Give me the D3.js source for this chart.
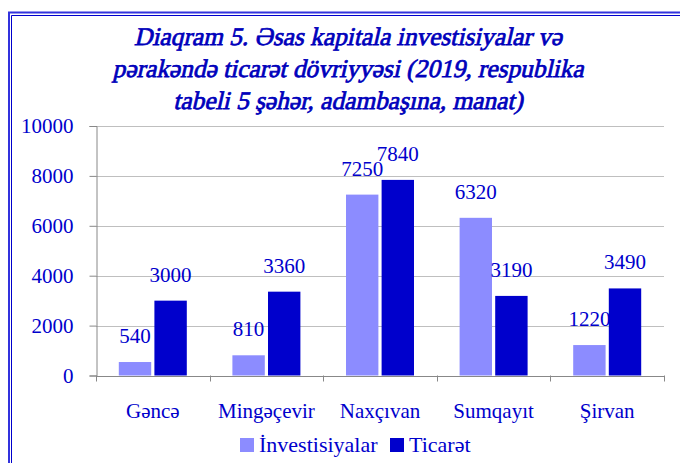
<!DOCTYPE html>
<html><head><meta charset="utf-8">
<script src="https://cdn.jsdelivr.net/npm/d3@7"></script>
<style>body{margin:0;background:#fff}svg{display:block}</style>
</head><body><svg id="c" width="680" height="463"></svg>
<script>
const categories = ["Gəncə","Mingəçevir","Naxçıvan","Sumqayıt","Şirvan"];
const investisiyalar = [540, 810, 7250, 6320, 1220];
const ticaret = [3000, 3360, 7840, 3190, 3490];
const seriesNames = ["İnvestisiyalar","Ticarət"];
const yTicks = [0,2000,4000,6000,8000,10000];
const titleLines = ["Diaqram 5. Əsas kapitala investisiyalar və","pərakəndə ticarət dövriyyəsi (2019, respublika","tabeli 5 şəhər, adambaşına, manat)"];

const colors = ["#8C8CFF","#0000CC"];
const txt = "#0000CC";
const font = "'Liberation Serif', 'Times New Roman', serif";
const svg = d3.select("#c");

// frame
svg.append("path").attr("d","M9,463 V12.5 H680").attr("fill","none").attr("stroke","#3333DD").attr("stroke-width",2);
svg.append("path").attr("d","M11.5,463 V15.5 H680").attr("fill","none").attr("stroke","#0000CC").attr("stroke-width",1);

// title (upright serif, skewed to italic, stroked for weight)
const tg = svg.append("g").selectAll("g").data(titleLines).join("g")
  .attr("transform",(d,i)=>`translate(348,${45+i*32}) skewX(-13)`);
const tt = tg.append("text")
  .attr("text-anchor","middle").attr("font-family",font)
  .attr("font-size",24)
  .attr("fill","#0000BB").attr("stroke","#0000BB").attr("stroke-width",0.75)
  .text(d=>d);
const w0 = tt.nodes()[0].getComputedTextLength();
if (w0 > 0) tt.attr("font-size", 24*428/w0);

const m = {l:96, r:664, t:126, b:375.5};
const x = d3.scaleBand().domain(categories).range([m.l,m.r]);
const y = d3.scaleLinear().domain([0,10000]).range([m.b,m.t]);
const sub = d3.scaleBand().domain([0,1]).range([0,68]).paddingInner(0.09);

// gridlines
svg.append("g").selectAll("line").data(yTicks.slice(1)).join("line")
  .attr("x1",m.l).attr("x2",m.r).attr("y1",d=>Math.round(y(d))+0.5).attr("y2",d=>Math.round(y(d))+0.5)
  .attr("stroke","#BFBFBF").attr("stroke-width",1);

// y axis
const ya = svg.append("g").attr("transform",`translate(${m.l+0.5},0)`)
  .call(d3.axisLeft(y).tickValues(yTicks).tickSize(7).tickPadding(16).tickFormat(d3.format("d")));
ya.select(".domain").attr("stroke","#888");
ya.selectAll(".tick line").attr("stroke","#888");
ya.selectAll("text").attr("font-family",font).attr("font-size",21).attr("fill",txt);

// x axis
const xa = svg.append("g").attr("transform",`translate(0,${Math.round(m.b)+0.5})`)
  .call(d3.axisBottom(x).tickSize(0).tickPadding(27));
xa.select(".domain").attr("stroke","#888").attr("d",`M${m.l},0H${m.r}`);
xa.selectAll("text").attr("font-family",font).attr("font-size",21).attr("fill",txt);
svg.append("g").selectAll("line").data(d3.range(categories.length+1)).join("line")
  .attr("x1",i=>Math.round(m.l+i*x.bandwidth())+0.5).attr("x2",i=>Math.round(m.l+i*x.bandwidth())+0.5)
  .attr("y1",m.b).attr("y2",m.b+6).attr("stroke","#888");

// bars
const series = [investisiyalar, ticaret];
series.forEach((vals,si)=>{
  const g = svg.append("g");
  const bx = c => x(c)+x.bandwidth()/2-34+sub(si);
  g.selectAll("rect").data(categories).join("rect")
    .attr("x",c=>bx(c)).attr("width",sub.bandwidth())
    .attr("y",(c,i)=>y(vals[i])).attr("height",(c,i)=>y(0)-y(vals[i]))
    .attr("fill",colors[si]);
  g.selectAll("text").data(categories).join("text")
    .attr("x",c=>bx(c)+sub.bandwidth()/2).attr("y",(c,i)=>y(vals[i])-19)
    .attr("text-anchor","middle").attr("font-family",font).attr("font-size",21).attr("fill",txt)
    .text((c,i)=>vals[i]);
});

// legend
const lg = svg.append("g");
const lx = [240, 390];
seriesNames.forEach((n,i)=>{
  lg.append("rect").attr("x",lx[i]).attr("y",438).attr("width",14).attr("height",14).attr("fill",colors[i]);
  lg.append("text").attr("x",lx[i]+19).attr("y",452).attr("font-family",font).attr("font-size",22).attr("fill",txt).text(n);
});
</script></body></html>
